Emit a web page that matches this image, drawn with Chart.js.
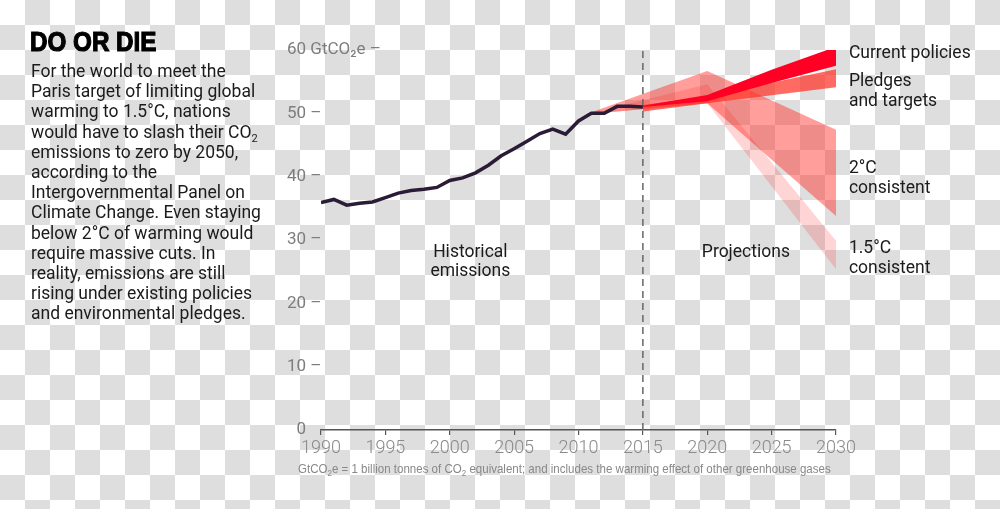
<!DOCTYPE html>
<html>
<head>
<meta charset="utf-8">
<script src="https://cdn.jsdelivr.net/npm/chart.js@4.4.1/dist/chart.umd.min.js"></script>
<style>
    html, body { margin: 0; padding: 0; }
    body {
        width: 1000px;
        height: 509px;
        overflow: hidden;
        position: relative;
        background: repeating-conic-gradient(#dedede 0 25%, #fff 0 50%) 0 0 / 50px 50px;
        font-family: Roboto, "Open Sans", sans-serif;
    }
    #chart { position: absolute; left: 0; top: 0; }
    .title {
        position: absolute;
        left: 30px;
        top: 28px;
        font: bold 28px/28px "Liberation Sans", Arial, sans-serif;
        -webkit-text-stroke: 1.2px #000;
        color: #000;
        white-space: nowrap;
        transform: scaleX(0.865);
        transform-origin: 0 0;
    }
    .intro {
        position: absolute;
        left: 31px;
        top: 61px;
        font-size: 17.5px;
        line-height: 20.2px;
        color: #1b1b1b;
        white-space: nowrap;
    }
    .intro sub { font-size: 11px; vertical-align: -4px; line-height: 0; }
    .note {
        position: absolute;
        left: 298px;
        top: 461px;
        font: 13px "Liberation Sans", Arial, sans-serif;
        color: #888;
        white-space: nowrap;
        transform: scaleX(0.887);
        transform-origin: 0 0;
    }
    .note sub { font-size: 9px; vertical-align: -3px; line-height: 0; }
</style>
</head>
<body>
<canvas id="chart" width="1000" height="509"></canvas>
<div class="title">DO OR DIE</div>
<div class="intro">
For the world to meet the<br>
Paris target of limiting global<br>
warming to 1.5°C, nations<br>
would have to slash their CO<sub>2</sub><br>
emissions to zero by 2050,<br>
according to the<br>
Intergovernmental Panel on<br>
Climate Change. Even staying<br>
below 2°C of warming would<br>
require massive cuts. In<br>
reality, emissions are still<br>
rising under existing policies<br>
and environmental pledges.
</div>
<div class="note">GtCO<sub>2</sub>e = 1 billion tonnes of CO<sub>2</sub> equivalent; and includes the warming effect of other greenhouse gases</div>
<script>
// Historical emissions, GtCO2e
const histYears = [1990, 1991, 1992, 1993, 1994, 1995, 1996, 1997, 1998, 1999, 2000, 2001, 2002,
    2003, 2004, 2005, 2006, 2007, 2008, 2009, 2010, 2011, 2012, 2013, 2014, 2015];
const histValues = [35.9, 36.4, 35.5, 35.8, 36.0, 36.7, 37.4, 37.8, 38.0, 38.3, 39.4, 39.8, 40.6,
    41.8, 43.3, 44.4, 45.6, 46.8, 47.5, 46.7, 48.8, 50.0, 50.0, 51.1, 51.1, 51.0];

// Projection bands (upper / lower edges)
const currentYears = [2015, 2020, 2025, 2030];
const currentHigh = [51.2, 52.9, 56.9, 60.5];
const currentLow = [51.0, 51.9, 54.8, 57.5];

const pledgeYears = [2015, 2020, 2030];
const pledgeHigh = [51.3, 52.7, 56.95];
const pledgeLow = [50.3, 51.6, 54.1];

const twoDegYears = [2010.5, 2020, 2030];
const twoDegHigh = [49.8, 56.7, 47.4];
const twoDegLow = [49.8, 51.6, 33.8];

const onePointFiveYears = [2010.5, 2020, 2030];
const onePointFiveHigh = [49.8, 54.6, 29.9];
const onePointFiveLow = [49.8, 51.6, 25.4];

const splitYear = 2015;

// Axis ticks
const yearTicks = [1990, 1995, 2000, 2005, 2010, 2015, 2020, 2025, 2030];
const valueTicks = [0, 10, 20, 30, 40, 50, 60];

// Text labels placed in data coordinates
const annotations = [
    { text: 'Historical', x: 2001.6, y: 27.3, align: 'center' },
    { text: 'emissions', x: 2001.6, y: 24.3, align: 'center' },
    { text: 'Projections', x: 2023.0, y: 27.35, align: 'center' },
    { text: 'Current policies', x: 2031.0, y: 58.7, align: 'left' },
    { text: 'Pledges', x: 2031.0, y: 54.3, align: 'left' },
    { text: 'and targets', x: 2031.0, y: 51.15, align: 'left' },
    { text: '2°C', x: 2031.0, y: 40.6, align: 'left' },
    { text: 'consistent', x: 2031.0, y: 37.45, align: 'left' },
    { text: '1.5°C', x: 2031.0, y: 27.9, align: 'left' },
    { text: 'consistent', x: 2031.0, y: 24.75, align: 'left' }
];

const toPoints = (xs, ys) => xs.map((x, i) => ({ x: x, y: ys[i] }));

function band(label, years, high, low, color, order) {
    const common = { pointRadius: 0, borderWidth: 0, tension: 0, order: order, clip: 6 };
    return [
        Object.assign({ label: label + ' high', data: toPoints(years, high), fill: '+1', backgroundColor: color }, common),
        Object.assign({ label: label + ' low', data: toPoints(years, low), fill: false, backgroundColor: color }, common)
    ];
}

const annotationPlugin = {
    id: 'annotationText',
    afterDraw(chart) {
        const { ctx, scales } = chart;
        ctx.save();
        ctx.font = '17.5px Roboto, "Open Sans", sans-serif';
        ctx.fillStyle = '#1b1b1b';
        ctx.textBaseline = 'alphabetic';
        annotations.forEach(a => {
            ctx.textAlign = a.align;
            ctx.fillText(a.text, scales.x.getPixelForValue(a.x), scales.y.getPixelForValue(a.y));
        });
        ctx.restore();
    }
};

const datasets = [
    {
        label: 'Historical emissions',
        data: toPoints(histYears, histValues),
        borderColor: '#2a1b36',
        borderWidth: 3.5,
        pointRadius: 0,
        tension: 0,
        fill: false,
        order: 0
    },
    {
        label: 'Split',
        data: [{ x: splitYear, y: 0 }, { x: splitYear, y: 60.6 }],
        borderColor: '#666',
        borderWidth: 1.5,
        borderDash: [7, 5],
        pointRadius: 0,
        fill: false,
        clip: false,
        order: 1
    },
    ...band('Current policies', currentYears, currentHigh, currentLow, 'rgb(255, 0, 36)', 2),
    ...band('Pledges and targets', pledgeYears, pledgeHigh, pledgeLow, 'rgba(255, 50, 38, 0.72)', 3),
    ...band('2°C consistent', twoDegYears, twoDegHigh, twoDegLow, 'rgba(255, 40, 30, 0.45)', 4),
    ...band('1.5°C consistent', onePointFiveYears, onePointFiveHigh, onePointFiveLow, 'rgba(255, 40, 40, 0.2)', 5)
];

new Chart(document.getElementById('chart'), {
    type: 'line',
    data: { datasets: datasets },
    options: {
        responsive: false,
        animation: false,
        events: [],
        layout: { padding: { left: 287, top: 50, right: 164, bottom: 0 } },
        plugins: {
            legend: { display: false },
            tooltip: { enabled: false }
        },
        scales: {
            x: {
                type: 'linear',
                min: 1990,
                max: 2030,
                afterBuildTicks: scale => { scale.ticks = yearTicks.map(v => ({ value: v })); },
                afterFit: scale => { scale.height = 79; },
                ticks: {
                    callback: v => String(v),
                    color: '#8a8a8a',
                    padding: 3,
                    maxRotation: 0,
                    font: { family: 'Roboto', size: 18, weight: 300 }
                },
                grid: {
                    drawOnChartArea: false,
                    drawTicks: true,
                    tickLength: 5,
                    color: '#555',
                    lineWidth: 1.2
                },
                border: { display: true, color: '#555', width: 1.5 }
            },
            y: {
                min: 0,
                max: 60,
                afterBuildTicks: scale => { scale.ticks = valueTicks.map(v => ({ value: v })); },
                afterFit: scale => { scale.width = 34; },
                ticks: {
                    // mirrored labels are not clipped to the narrow axis box
                    mirror: true,
                    crossAlign: 'near',
                    padding: -34,
                    color: '#7d7d7d',
                    font: { family: 'Roboto', size: 17 },
                    callback: v => v === 60 ? '60 GtCO\u2082e \u2013' : (v === 0 ? '\u20070' : v + ' \u2013')
                },
                grid: { display: false, drawTicks: false },
                border: { display: false }
            }
        }
    },
    plugins: [annotationPlugin]
});
</script>
</body>
</html>
